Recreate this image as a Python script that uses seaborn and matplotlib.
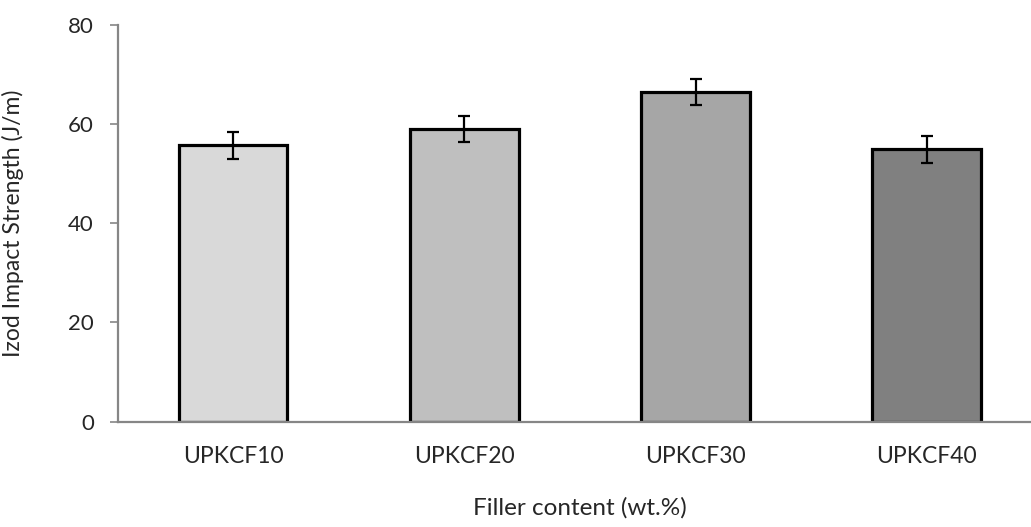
import matplotlib
matplotlib.use('AGG')
import matplotlib.pyplot as plt
import seaborn as sns

categories = ['UPKCF10', 'UPKCF20', 'UPKCF30', 'UPKCF40']
strength = [55.7, 59.0, 66.5, 54.9]
errors = [2.65, 2.65, 2.65, 2.65]
colors = ['#d9d9d9', '#bfbfbf', '#a6a6a6', '#808080']

sns.set_style('white')
plt.rcParams['font.family'] = ['Lato', 'DejaVu Sans']

fig = plt.figure(figsize=(10.31, 5.27), dpi=100)
ax = fig.add_axes([0.114, 0.2, 0.897, 0.7526])

sns.barplot(x=categories, y=strength, hue=categories, palette=colors,
            width=0.47, edgecolor='black', linewidth=2.3, legend=False,
            saturation=1, ax=ax)
ax.errorbar(x=range(len(categories)), y=strength, yerr=errors, fmt='none',
            ecolor='black', elinewidth=1.6, capsize=4.5, capthick=1.6)

ax.set_xlim(-0.5, 3.5)
ax.set_ylim(0, 80)
ax.set_yticks([0, 20, 40, 60, 80])
for s in ['top', 'right']:
    ax.spines[s].set_visible(False)
for s in ['left', 'bottom']:
    ax.spines[s].set_color('#868686')
    ax.spines[s].set_linewidth(1.6)
ax.tick_params(axis='y', which='major', left=True, length=6, width=1.2,
               color='#868686', labelsize=16, pad=11)
ax.tick_params(axis='x', bottom=False, labelsize=16.5, pad=14)
ax.set_ylabel('Izod Impact Strength (J/m)', fontsize=16.5, labelpad=32)
ax.set_xlabel('Filler content (wt.%)', fontsize=17.5, labelpad=22)

fig.savefig('out.png', dpi=100)
